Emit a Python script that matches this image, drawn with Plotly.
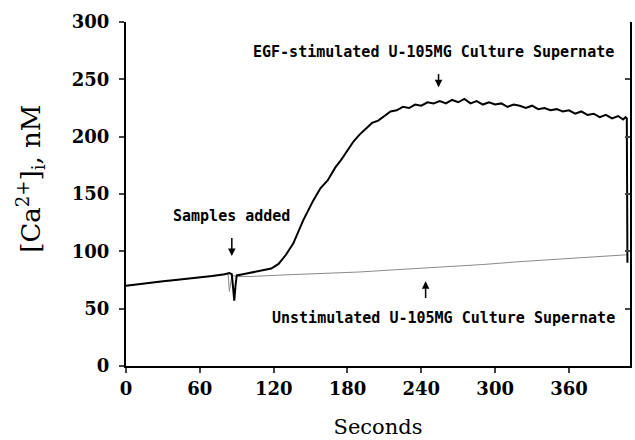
import plotly.graph_objects as go

# EGF-stimulated culture supernate trace (seconds, nM)
time_egf = [0, 10, 20, 30, 40, 50, 60, 70, 80, 84, 86, 87, 88, 89, 90, 95, 100, 110, 118, 124,
            130, 136, 144, 152, 158, 164, 170, 175, 180, 185, 190, 195, 200, 205, 210, 215,
            220, 225, 230, 235, 240, 245, 250, 255, 260, 265, 270, 275, 280, 285, 290, 295,
            300, 305, 310, 315, 320, 325, 330, 335, 340, 345, 350, 355, 360, 365, 370, 375,
            380, 385, 390, 395, 400, 404, 406, 407, 407.5]
ca_egf = [70, 71.5, 72.5, 74, 75, 76, 77.5, 78.5, 80, 81, 80, 66, 57, 70, 79, 80, 81, 83, 85, 89,
          97, 107, 127, 144, 155, 162, 173, 180, 188, 196, 202, 207, 212, 214, 218, 222,
          223, 226, 225, 228, 227, 230, 229, 231, 229, 232, 230, 233, 229, 231, 228, 230,
          228, 229, 226, 228, 227, 225, 227, 224, 225, 223, 224, 222, 223, 220, 222, 219,
          220, 217, 219, 216, 218, 215, 217, 216, 90]

# Unstimulated culture supernate trace
time_unstim = [0, 20, 40, 60, 80, 83, 84, 85, 86, 90, 100, 130, 160, 190, 220, 255, 290, 320,
               350, 380, 407]
ca_unstim = [70, 72.5, 75, 77.5, 80, 80, 65, 72, 79, 78, 78, 79.5, 80.5, 82, 84, 86, 88.5, 91,
             93, 95, 97]

x_ticks = [0, 60, 120, 180, 240, 300, 360]
y_ticks = [0, 50, 100, 150, 200, 250, 300]

fig = go.Figure()
fig.add_trace(go.Scatter(x=time_unstim, y=ca_unstim, mode="lines",
                         line=dict(color="#8a8a8a", width=1), showlegend=False))
fig.add_trace(go.Scatter(x=time_egf, y=ca_egf, mode="lines",
                         line=dict(color="black", width=2), showlegend=False))
# invisible trace to anchor the right-hand axis
fig.add_trace(go.Scatter(x=[0], y=[0], yaxis="y2", mode="markers",
                         marker=dict(opacity=0), showlegend=False, hoverinfo="skip"))

tick_font = dict(family="DejaVu Serif", size=18, color="black", weight="bold")
ann_font = dict(family="DejaVu Sans Mono", size=15, color="black", weight="bold")

fig.update_layout(
    width=635, height=440,
    margin=dict(l=126, r=5, t=22, b=70),
    plot_bgcolor="white", paper_bgcolor="white",
    xaxis=dict(range=[0, 409.6], tickvals=x_ticks, ticks="outside", ticklen=5,
               tickwidth=1.5, showline=True, linewidth=2, linecolor="black",
               showgrid=False, zeroline=False, tickfont=tick_font,
               title=dict(text="Seconds", font=dict(family="DejaVu Serif", size=21,
                                                    color="black"), standoff=22)),
    yaxis=dict(range=[0, 300], tickvals=y_ticks, ticks="outside", ticklen=5,
               tickwidth=1.5, showline=True, linewidth=2, linecolor="black",
               showgrid=False, zeroline=False, tickfont=tick_font,
               ticklabelstandoff=6),
    yaxis2=dict(range=[0, 300], tickvals=y_ticks, overlaying="y", side="right",
                ticks="inside", ticklen=5, tickwidth=1.5, showline=True, linewidth=2,
                linecolor="black", showgrid=False, zeroline=False,
                showticklabels=False),
)

annotations = [
    dict(text="[Ca<sup>2+</sup>]<sub>i</sub>, nM", xref="paper", yref="paper",
         x=-0.19, y=0.545, xanchor="center", yanchor="middle", textangle=-90,
         showarrow=False, font=dict(family="DejaVu Serif", size=26, color="black")),
    dict(text="Samples added", x=86, y=131, xref="x", yref="y", showarrow=False,
         font=ann_font),
    dict(text="EGF-stimulated U-105MG Culture Supernate", x=250, y=273.5, xref="x",
         yref="y", showarrow=False, font=ann_font),
    dict(text="Unstimulated U-105MG Culture Supernate", x=258, y=42, xref="x",
         yref="y", showarrow=False, font=ann_font),
    dict(text="", x=86, y=96, ax=86, ay=113, xref="x", yref="y", axref="x", ayref="y",
         showarrow=True, arrowhead=2, arrowsize=1, arrowwidth=1.5, arrowcolor="black"),
    dict(text="", x=254, y=243, ax=254, ay=256, xref="x", yref="y", axref="x", ayref="y",
         showarrow=True, arrowhead=2, arrowsize=1, arrowwidth=1.5, arrowcolor="black"),
    dict(text="", x=243.5, y=74, ax=243.5, ay=58, xref="x", yref="y", axref="x", ayref="y",
         showarrow=True, arrowhead=2, arrowsize=1, arrowwidth=1.5, arrowcolor="black"),
]
fig.update_layout(annotations=annotations)

fig.write_html("out.html", config={"displayModeBar": False},
               post_script="document.body.style.margin='0';")
